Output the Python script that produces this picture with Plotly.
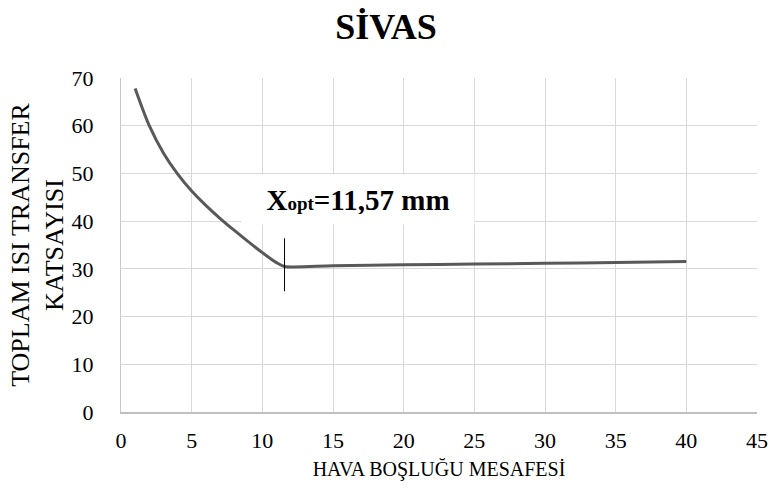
import plotly.graph_objects as go

# ---- data ----
x_curve = [1, 2, 3, 4, 5, 6, 7, 8, 9, 10, 11, 11.57,
           15, 20, 25, 30, 35, 40]
y_curve = [67.8, 60.0, 54.3, 49.9, 46.3, 43.3, 40.6, 38.1, 35.7, 33.4, 31.3, 30.5,
           30.65, 30.85, 31.0, 31.15, 31.35, 31.55]

x_opt = 11.57
marker_y = [25.3, 36.4]           # extent of the thin marker at the optimum
label_text = '<b>X<span style="font-size:19px">opt</span>=11,57 mm</b>'
label_pos = (16.8, 44.5)          # label centre in data units

x_ticks = [0, 5, 10, 15, 20, 25, 30, 35, 40, 45]
y_ticks = [0, 10, 20, 30, 40, 50, 60, 70]

title_text = "<b>SİVAS</b>"
x_title = "HAVA BOŞLUĞU MESAFESİ"
y_title = "TOPLAM ISI TRANSFER<br>KATSAYISI"

FONT = "Times New Roman, Liberation Serif, serif"
W, H = 773, 498

fig = go.Figure()
fig.add_trace(go.Scatter(
    x=x_curve, y=y_curve, mode="lines",
    line=dict(color="#595959", width=3, shape="spline", smoothing=0.8),
    hoverinfo="skip", showlegend=False))
fig.add_trace(go.Scatter(
    x=[x_opt, x_opt], y=marker_y, mode="lines",
    line=dict(color="#000000", width=1),
    hoverinfo="skip", showlegend=False))

fig.add_annotation(
    x=label_pos[0], y=label_pos[1], xref="x", yref="y",
    text=label_text, showarrow=False,
    font=dict(family=FONT, size=29, color="#000000"),
    bgcolor="#ffffff", width=212, height=29, borderpad=10)

fig.update_layout(
    width=W, height=H,
    paper_bgcolor="#ffffff", plot_bgcolor="#ffffff",
    margin=dict(l=121, r=16, t=78, b=86, autoexpand=False),
    font=dict(family=FONT, size=22, color="#000000"),
    title=dict(text=title_text, x=386 / W, xanchor="center",
               y=1 - 26 / H, yanchor="middle", yref="container",
               font=dict(family=FONT, size=36, color="#000000")),
)
fig.update_xaxes(
    range=[0, 45], tickvals=x_ticks, ticks="", ticklabelstandoff=8,
    tickfont=dict(family=FONT, size=22), automargin=False,
    showgrid=True, gridcolor="#d9d9d9", gridwidth=1, zeroline=False,
    showline=True, linecolor="#bfbfbf", linewidth=1.5, mirror=False,
    title=dict(text=x_title, standoff=10, font=dict(family=FONT, size=20)))
fig.update_yaxes(
    range=[0, 70], tickvals=y_ticks, ticks="", ticklabelstandoff=22,
    tickfont=dict(family=FONT, size=22), automargin=False,
    showgrid=True, gridcolor="#d9d9d9", gridwidth=1, zeroline=False,
    showline=True, linecolor="#c8c8c8", linewidth=1,
    title=dict(text=y_title, standoff=0, font=dict(family=FONT, size=26)))

fig.write_html("out.html",
               config={"displayModeBar": False},
               post_script="document.body.style.margin='0px';")
